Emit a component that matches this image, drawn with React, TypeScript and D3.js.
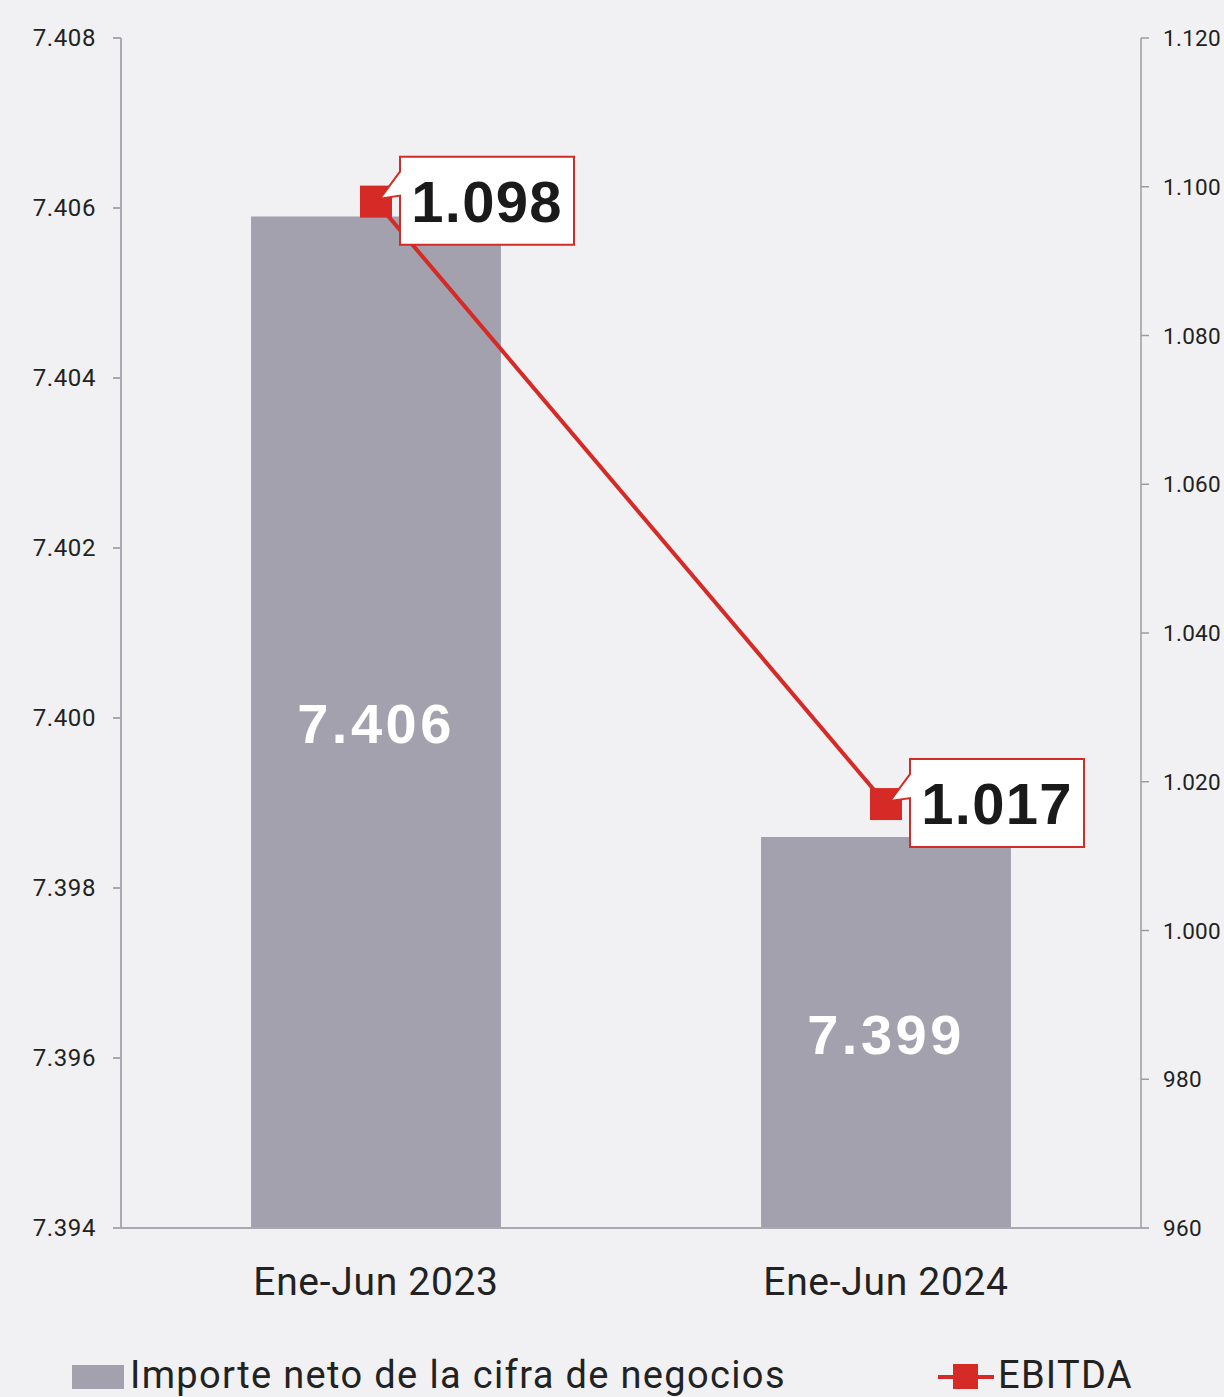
import React from "react";
import * as d3 from "d3";

const categories = ["Ene-Jun 2023", "Ene-Jun 2024"];
const importeValues = [7405.9, 7398.6];
const importeLabels = ["7.406", "7.399"];
const ebitdaValues = [1098, 1017];
const ebitdaLabels = ["1.098", "1.017"];
const leftTicks = [7394, 7396, 7398, 7400, 7402, 7404, 7406, 7408];
const rightTicks = [960, 980, 1000, 1020, 1040, 1060, 1080, 1100, 1120];
const legendLabels = ["Importe neto de la cifra de negocios", "EBITDA"];

const W = 1224;
const H = 1397;
const BG = "#f1f1f3";
const BAR = "#a2a1ad";
const RED = "#d52a25";
const AXIS = "#a9a9b2";
const FONT = "Roboto, 'Liberation Sans', sans-serif";
const BOLD = "'Liberation Sans', Arial, sans-serif";

const locale = d3.formatLocale({ decimal: ",", thousands: ".", grouping: [3], currency: ["", "€"] });
const fmt = locale.format(",.0f");

export default function App() {
  const left = 121, right = 1141, top = 38, bottom = 1228;
  const x = d3.scaleBand<string>().domain(categories).range([left, right]).paddingInner(0.51).paddingOuter(0.255);
  const yL = d3.scaleLinear().domain([7394, 7408]).range([bottom, top]);
  const yR = d3.scaleLinear().domain([960, 1120]).range([bottom, top]);
  const cx = (c: string) => (x(c) as number) + x.bandwidth() / 2;
  const pts = categories.map((c, i) => [cx(c), yR(ebitdaValues[i])] as [number, number]);
  const line = d3.line();

  return (
    <svg width={W} height={H} style={{ position: "absolute", left: 0, top: 0, background: BG }}>
      <rect x={0} y={0} width={W} height={H} fill={BG} />
      {/* bars */}
      {categories.map((c, i) => (
        <rect key={c} x={x(c)} y={yL(importeValues[i])} width={x.bandwidth()} height={bottom - yL(importeValues[i])} fill={BAR} />
      ))}
      {/* left axis */}
      <line x1={left} x2={left} y1={top} y2={bottom} stroke={AXIS} strokeWidth={2} />
      {leftTicks.map((t) => (
        <g key={t}>
          <line x1={left - 8} x2={left} y1={yL(t)} y2={yL(t)} stroke={AXIS} strokeWidth={2} />
          <text x={96} y={yL(t) + 8} textAnchor="end" fontFamily={FONT} fontSize={24} letterSpacing={0.6} fill="#222">{fmt(t)}</text>
        </g>
      ))}
      {/* right axis */}
      <line x1={right} x2={right} y1={top} y2={bottom} stroke="#9c9c9c" strokeWidth={1.5} />
      {rightTicks.map((t) => (
        <g key={t}>
          <line x1={right} x2={right + 8} y1={yR(t)} y2={yR(t)} stroke="#9c9c9c" strokeWidth={1.5} />
          <text x={1163} y={yR(t) + 8} textAnchor="start" fontFamily={FONT} fontSize={22.5} letterSpacing={0.3} fill="#222">{fmt(t)}</text>
        </g>
      ))}
      {/* bottom axis */}
      <line x1={left - 8} x2={right + 8} y1={bottom} y2={bottom} stroke={AXIS} strokeWidth={2} />
      {categories.map((c) => (
        <text key={c} x={cx(c)} y={1295} textAnchor="middle" fontFamily={FONT} fontSize={39} letterSpacing={0.7} fill="#222">{c}</text>
      ))}
      {/* bar labels */}
      {categories.map((c, i) => {
        const yt = yL(importeValues[i]);
        const mid = (yt + bottom) / 2;
        return (
          <text key={c} x={cx(c)} y={mid + 21} textAnchor="middle" fontFamily={BOLD} fontWeight="bold" fontSize={56} letterSpacing={3.5} fill="#fff">{importeLabels[i]}</text>
        );
      })}
      {/* EBITDA line */}
      <path d={line(pts) || ""} fill="none" stroke={RED} strokeWidth={4} />
      {pts.map(([px, py], i) => (
        <rect key={i} x={px - 16} y={py - 16} width={32} height={32} fill={RED} />
      ))}
      {/* callouts */}
      {pts.map(([px, py], i) => {
        const bl = px + 24, bt = py - 45, bw = 174, bh = 88;
        const d = `M${bl},${bt} H${bl + bw} V${bt + bh} H${bl} V${py - 6} L${px + 4},${py - 3} L${bl},${py - 30} Z`;
        return (
          <g key={i}>
            <path d={d} fill="#fff" stroke={RED} strokeWidth={2} />
            <text x={bl + bw / 2} y={py + 20} textAnchor="middle" fontFamily={BOLD} fontWeight="bold" fontSize={58} letterSpacing={1.3} fill="#1a1a1a">{ebitdaLabels[i]}</text>
          </g>
        );
      })}
      {/* legend */}
      <rect x={72} y={1365} width={52} height={24} fill={BAR} />
      <text x={130} y={1388} fontFamily={FONT} fontSize={38} letterSpacing={1.35} fill="#222">{legendLabels[0]}</text>
      <line x1={938} x2={994} y1={1377} y2={1377} stroke={RED} strokeWidth={4} />
      <rect x={953} y={1364} width={25} height={25} fill={RED} />
      <text x={998} y={1388} fontFamily={FONT} fontSize={38} letterSpacing={1.3} fill="#222">{legendLabels[1]}</text>
    </svg>
  );
}
